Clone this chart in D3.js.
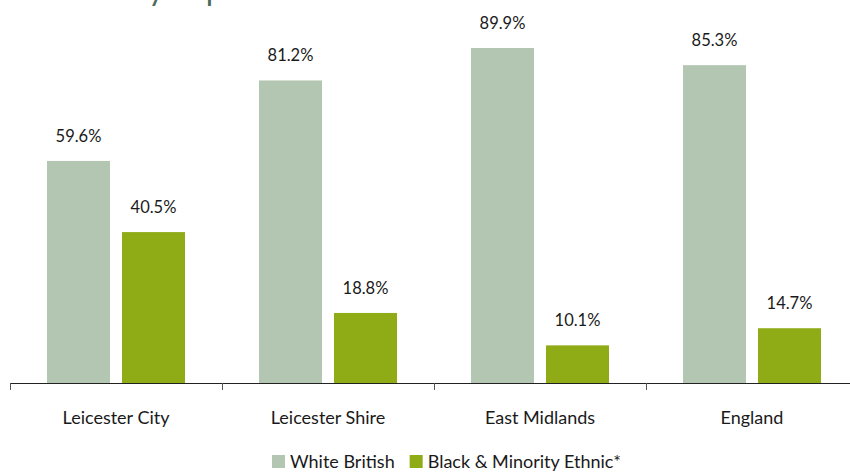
<!DOCTYPE html>
<html>
<head>
<meta charset="utf-8">
<script src="https://cdn.jsdelivr.net/npm/d3@7"></script>
<style>
  html, body { margin: 0; padding: 0; background: #fff; }
  svg { display: block; font-family: Lato, "Open Sans", sans-serif; }
</style>
</head>
<body>
<svg id="chart" width="850" height="472"></svg>
<script>
// Population share by ethnic group, per area (%)
const categories = ["Leicester City", "Leicester Shire", "East Midlands", "England"];
const seriesNames = ["White British", "Black & Minority Ethnic*"];
const whiteBritish = [59.6, 81.2, 89.9, 85.3];
const bme = [40.5, 18.8, 10.1, 14.7];
const colors = ["#b3c6b2", "#8fab16"];

const svg = d3.select("#chart");
const W = 850, H = 472;
const baseY = 383;

// Title sits above the top edge; only its descenders reach into view
const title = svg.append("text")
  .attr("x", 0).attr("y", 0)
  .attr("font-size", 32)
  .attr("fill", "#4e6b5c")
  .text("Ethnicity in profile");
// place the title so that the "y" of "Ethnicity" starts at x = 148
title.attr("x", 148 - title.node().getSubStringLength(0, 8));

const x0 = d3.scaleBand().domain(categories).range([10, 858]).paddingInner(0).paddingOuter(0);
const x1 = d3.scaleBand().domain(seriesNames).range([0, 138]).paddingInner(0.16);
const y = d3.scaleLinear().domain([0, 100]).range([baseY, 10.4]);

const rows = categories.map((c, i) => ({
  cat: c,
  vals: [
    { s: seriesNames[0], v: whiteBritish[i], c: colors[0] },
    { s: seriesNames[1], v: bme[i], c: colors[1] }
  ]
}));

const groupOffset = (x0.bandwidth() - 138) / 2;

const g = svg.selectAll("g.grp").data(rows).enter().append("g")
  .attr("class", "grp")
  .attr("transform", d => `translate(${x0(d.cat) + groupOffset},0)`);

g.selectAll("rect").data(d => d.vals).enter().append("rect")
  .attr("x", d => x1(d.s))
  .attr("y", d => y(d.v))
  .attr("width", x1.bandwidth())
  .attr("height", d => baseY - y(d.v))
  .attr("fill", d => d.c);

g.selectAll("text.val").data(d => d.vals).enter().append("text")
  .attr("class", "val")
  .attr("x", d => x1(d.s) + x1.bandwidth() / 2)
  .attr("y", d => y(d.v) - 19)
  .attr("text-anchor", "middle")
  .attr("font-size", 16.5)
  .attr("fill", "#1a1a1a")
  .text(d => d.v.toFixed(1) + "%");

// Category axis
const axis = d3.axisBottom(x0).tickSize(0).tickPadding(0);
const ax = svg.append("g").attr("transform", `translate(0,${baseY})`).call(axis);
ax.select(".domain").remove();
ax.selectAll(".tick text")
  .attr("y", 41)
  .attr("dy", 0)
  .attr("font-size", 18)
  .attr("font-family", "Lato, 'Open Sans', sans-serif")
  .attr("fill", "#1a1a1a");

svg.append("line")
  .attr("x1", 10).attr("x2", W)
  .attr("y1", baseY + 0.5).attr("y2", baseY + 0.5)
  .attr("stroke", "#222").attr("stroke-width", 1);

const edges = categories.map(c => x0(c)).concat([x0.range()[1]]);
svg.selectAll("line.tk").data(edges).enter().append("line")
  .attr("class", "tk")
  .attr("x1", d => Math.round(d) + 0.5).attr("x2", d => Math.round(d) + 0.5)
  .attr("y1", baseY).attr("y2", baseY + 7)
  .attr("stroke", "#555").attr("stroke-width", 1);

// Legend
const legend = svg.append("g").attr("transform", "translate(272,455)");
let lx = 0;
seriesNames.forEach((s, i) => {
  const item = legend.append("g").attr("transform", `translate(${lx},0)`);
  item.append("rect").attr("width", 13).attr("height", 13).attr("fill", colors[i]);
  const t = item.append("text").attr("x", 18).attr("y", 13)
    .attr("font-size", 18).attr("fill", "#1a1a1a").text(s);
  lx += 18 + t.node().getComputedTextLength() + 15;
});
</script>
</body>
</html>
